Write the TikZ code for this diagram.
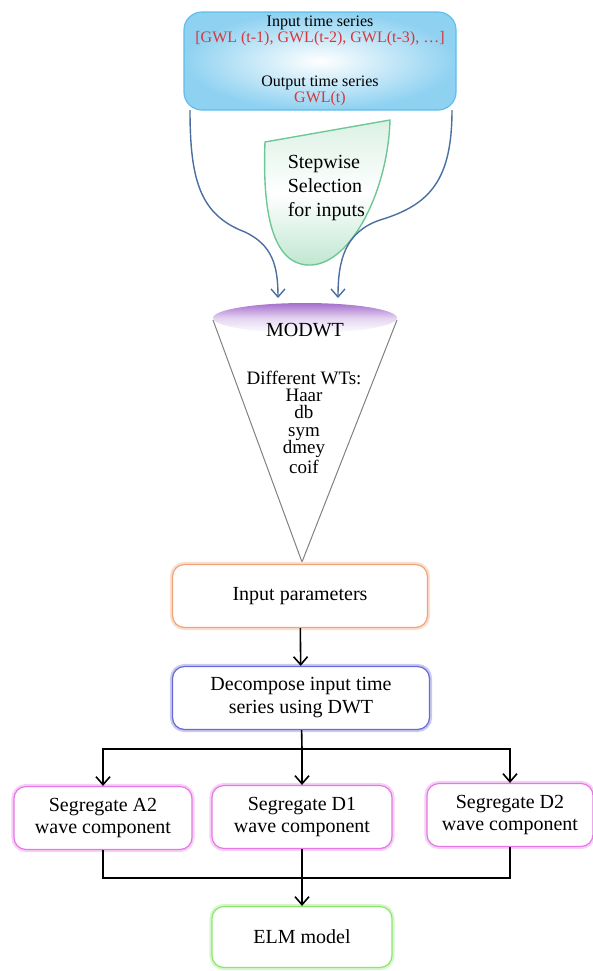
\documentclass[tikz,border=0pt]{standalone}
\usepackage{fontspec}
\setmainfont{Liberation Serif}
\usetikzlibrary{arrows.meta}
\definecolor{gwlred}{RGB}{215,55,60}
\definecolor{curveblue}{RGB}{75,110,160}
\definecolor{iocyan}{RGB}{95,190,235}
\definecolor{selgreen}{RGB}{110,200,150}
\definecolor{conepurple}{RGB}{165,110,205}
\definecolor{paramorange}{RGB}{240,165,120}
\definecolor{dwtblue}{RGB}{105,105,215}
\definecolor{segpink}{RGB}{230,120,230}
\definecolor{elmgreen}{RGB}{140,230,110}
\tikzstyle{box}=[rounded corners=6pt, fill=white, align=center, inner sep=0pt,
  minimum height=31.5pt, font=\fontsize{10}{11}\selectfont]
\tikzstyle{soft}=[preaction={draw=#1!35, line width=2.6pt}, draw=#1, line width=0.6pt]
\tikzstyle{arr}=[-{Straight Barb[length=4pt,width=7pt]}]

\begin{document}
\begin{tikzpicture}[x=0.5pt, y=-0.5pt, line width=0.8pt]
\useasboundingbox (0,0) rectangle (593,971);
% Input / output series
    \node[box, rounded corners=9pt, minimum width=136pt, minimum height=49pt,
      draw=iocyan, line width=0.6pt, inner color=white, outer color=iocyan!70,
      font=\fontsize{8}{8}\selectfont] (io) at (320,61)
      {Input time series\\ \textcolor{gwlred}{[GWL (t-1), GWL(t-2), GWL(t-3), \dots]}\\[14pt]
       Output time series\\ \textcolor{gwlred}{GWL(t)}};
% Stepwise selection
    \draw[draw=selgreen, line width=0.7pt, top color=selgreen!25, bottom color=selgreen!45,
      middle color=white]
      (265,142) -- (390,120) .. controls (388,190) and (352,262) .. (312,265)
      .. controls (275,267) and (262,220) .. (265,142) -- cycle;
    \node[align=left, anchor=west, inner sep=0pt, font=\fontsize{10}{11.8}\selectfont] (sel)
      at (287,188) {Stepwise\\Selection\\for inputs};
% MODWT cone
    \draw[gray, line width=0.5pt] (213,320) -- (302,562) -- (397,320);
    \shade[top color=conepurple, bottom color=white, middle color=conepurple!30]
      (305,318) ellipse [x radius=92, y radius=15];
    \node[font=\fontsize{10}{11}\selectfont, inner sep=0pt] (modwt) at (305,330) {MODWT};
    \node[align=center, inner sep=0pt, font=\fontsize{9.5}{8.7}\selectfont] (wts) at (304,422)
      {Different WTs:\\Haar\\db\\sym\\dmey\\coif};
    \coordinate (inL) at (278,298);
    \coordinate (inR) at (338,298);
    \coordinate (ioL) at (190,110);
    \coordinate (ioR) at (452,110);
% Curves into MODWT
    \draw[curveblue, arr, line width=0.7pt] (ioL) .. controls (190,180) and (200,215) .. (245,232)
      .. controls (272,245) and (278,265) .. (inL);
    \draw[curveblue, arr, line width=0.7pt] (ioR) .. controls (452,180) and (430,205) .. (380,220)
      .. controls (345,232) and (338,260) .. (inR);
% Boxes
    \node[box, soft=paramorange, minimum width=127.5pt] (par) at (300,596) {Input parameters};
    \node[box, soft=dwtblue, minimum width=128.5pt, font=\fontsize{10}{11.5}\selectfont] (dwt)
      at (301,698) {Decompose input time\\series using DWT};
    \node[box, soft=segpink, minimum width=89pt] (a2) at (103,818) {Segregate A2\\wave component};
    \node[box, soft=segpink, minimum width=90pt] (d1) at (302,817) {Segregate D1\\wave component};
    \node[box, soft=segpink, minimum width=83pt] (d2) at (510,815) {Segregate D2\\wave component};
    \node[box, soft=elmgreen, minimum width=90pt, minimum height=30.5pt] (elm) at (302,937) {ELM model};
    \coordinate (split) at (302,749);
    \coordinate (join) at (302,878);
% Arrows
    \draw[arr] (par) -- (dwt);
    \draw (dwt) -- (split);
    \draw[arr] (split) -| (a2);
    \draw[arr] (split) -- (d1);
    \draw[arr] (split) -| (d2);
    \draw (a2) |- (join);
    \draw (d2) |- (join);
    \draw[arr] (d1) -- (elm);
\end{tikzpicture}
\end{document}
